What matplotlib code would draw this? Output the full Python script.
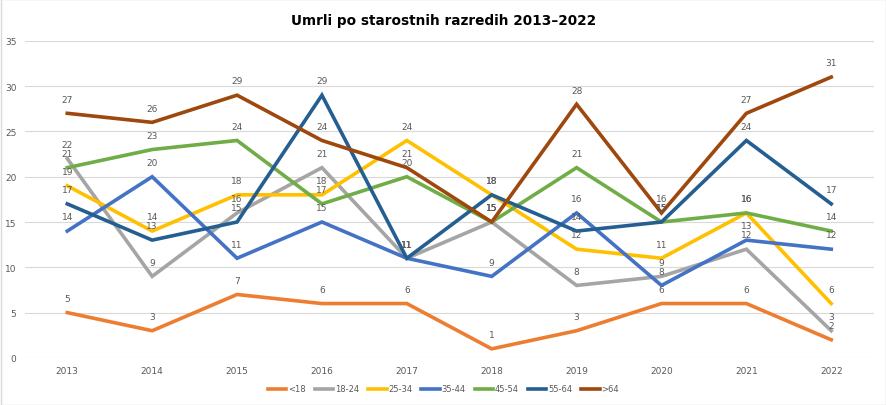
import matplotlib
matplotlib.use("Agg")
import matplotlib.pyplot as plt

years = ["2013", "2014", "2015", "2016", "2017", "2018", "2019", "2020", "2021", "2022"]
series_names = ["<18", "18-24", "25-34", "35-44", "45-54", "55-64", ">64"]
v_lt18 = [5, 3, 7, 6, 6, 1, 3, 6, 6, 2]
v_18_24 = [22, 9, 16, 21, 11, 15, 8, 9, 12, 3]
v_25_34 = [19, 14, 18, 18, 24, 18, 12, 11, 16, 6]
v_35_44 = [14, 20, 11, 15, 11, 9, 16, 8, 13, 12]
v_45_54 = [21, 23, 24, 17, 20, 15, 21, 15, 16, 14]
v_55_64 = [17, 13, 15, 29, 11, 18, 14, 15, 24, 17]
v_gt64 = [27, 26, 29, 24, 21, 15, 28, 16, 27, 31]
values = [v_lt18, v_18_24, v_25_34, v_35_44, v_45_54, v_55_64, v_gt64]
colors = ["#ED7D31", "#A5A5A5", "#FFC000", "#4472C4", "#70AD47", "#255E91", "#9E480E"]

fig = plt.figure(figsize=(8.87, 4.06), dpi=100)
ax = fig.add_axes([0.028, 0.116, 0.957, 0.781])
x = list(range(len(years)))
for name, vals, c in zip(series_names, values, colors):
    ax.plot(x, vals, color=c, lw=2.6, label=name, solid_joinstyle="miter")
    for xi, v in zip(x, vals):
        ax.annotate(str(v), (xi, v), xytext=(0, 7), textcoords="offset points",
                    ha="center", va="bottom", fontsize=6.5, color="#595959")

ax.set_xlim(-0.5, len(years) - 0.5)
ax.set_ylim(0, 35)
ax.set_yticks(range(0, 36, 5))
ax.set_xticks(x)
ax.set_xticklabels(years)
ax.tick_params(axis="both", length=0, labelsize=6.5, colors="#595959")
ax.tick_params(axis="y", pad=6)
ax.tick_params(axis="x", pad=6)
for s in ax.spines.values():
    s.set_visible(False)
ax.grid(axis="y", color="#D9D9D9", lw=0.8)
ax.set_axisbelow(True)

fig.suptitle("Umrli po starostnih razredih 2013–2022", y=0.965, fontsize=9.8,
             fontweight="bold", color="#000000")
leg = fig.legend(loc="lower center", bbox_to_anchor=(0.5, 0.01), ncol=7, frameon=False,
                 fontsize=6, handlelength=2.2, handletextpad=0.2, columnspacing=1.1,
                 labelcolor="#595959")
fig.patches.append(plt.Rectangle((0.001, 0.001), 0.998, 0.998, transform=fig.transFigure,
                                 fill=False, edgecolor="#D9D9D9", lw=1))
fig.savefig("out.png", dpi=100)
